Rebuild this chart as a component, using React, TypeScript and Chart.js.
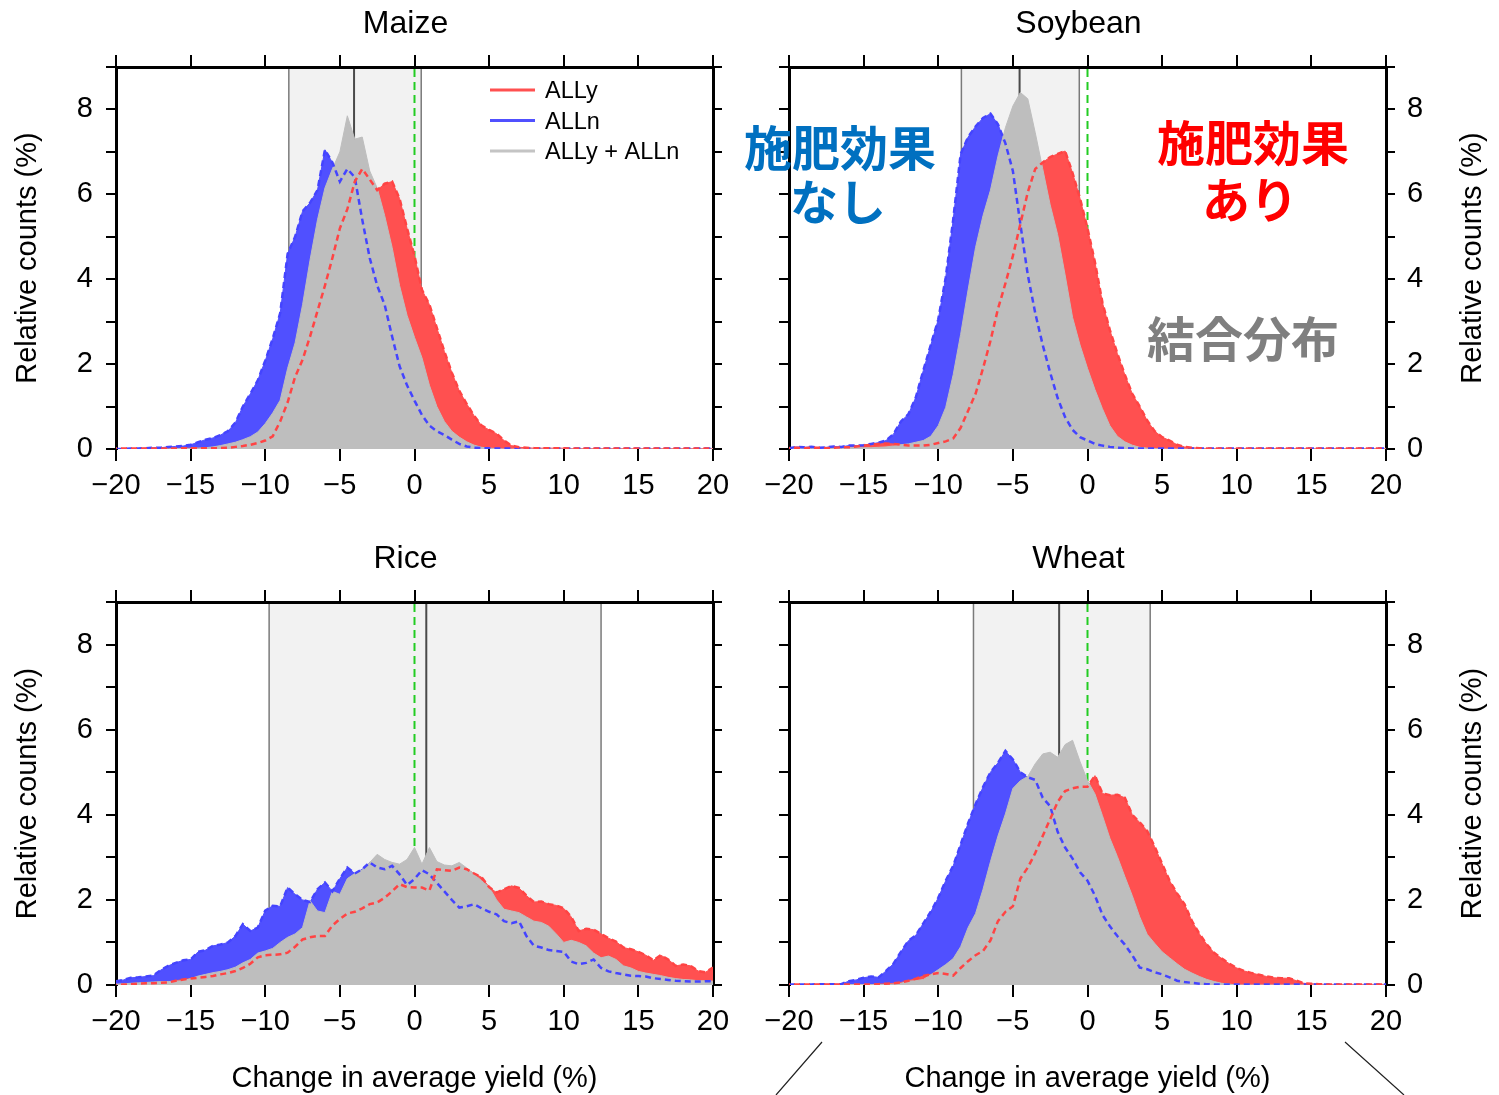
import React, { useEffect, useRef } from 'react';
import { Chart, registerables } from 'chart.js';

Chart.register(...registerables);

const FONT = "'Liberation Sans', Arial, Helvetica, sans-serif";
const JP_FONT = "'Noto Sans CJK JP', 'Noto Sans CJK SC', sans-serif";

Chart.defaults.font.family = FONT;
Chart.defaults.color = '#000';

// Histogram bin centres (% change in average yield), every 0.5 from -20 to 20
const BINS: number[] = Array.from({ length: 81 }, (_, i) => -20 + i * 0.5);

const CROPS = ['Maize', 'Soybean', 'Rice', 'Wheat'];
const LEGEND_LABELS = ['ALLy', 'ALLn', 'ALLy + ALLn'];
const X_TITLE = 'Change in average yield (%)';
const Y_TITLE = 'Relative counts (%)';
const NOTE_WITHOUT = ['施肥効果', 'なし'];
const NOTE_WITH = ['施肥効果', 'あり'];
const NOTE_JOINT = '結合分布';

// Relative counts (%) per bin
const MAIZE_ALLY = [
  0.01, 0.01, 0.01, 0.01, 0.01, 0.01, 0.01, 0.01, 0.01, 0.02,
  0.02, 0.02, 0.02, 0.02, 0.02, 0.03, 0.05, 0.07, 0.1, 0.14,
  0.2, 0.3, 0.65, 1.1, 1.7, 2.1, 2.65, 3.25, 3.85, 4.5,
  5.2, 5.65, 6.3, 6.6, 6.35, 6.1, 6.25, 6.3, 5.9, 5.2,
  4.55, 3.75, 3.4, 2.85, 2.3, 1.8, 1.37, 1.06, 0.78, 0.55,
  0.45, 0.36, 0.2, 0.08, 0.04, 0.03, 0.02, 0.02, 0.02, 0.02,
  0.02, 0.01, 0.01, 0.01, 0.01, 0.01, 0.01, 0.01, 0.01, 0.01,
  0.01, 0.01, 0.01, 0.01, 0.01, 0.01, 0.01, 0.01, 0.01, 0.01,
  0.01,
];
const MAIZE_ALLN = [
  0, 0, 0.01, 0.01, 0.02, 0.03, 0.03, 0.05, 0.06, 0.07,
  0.1, 0.16, 0.22, 0.26, 0.33, 0.42, 0.62, 1.0, 1.3, 1.62,
  2.08, 2.6, 3.2, 4.6, 5.0, 5.6, 5.8, 6.1, 7.05, 6.75,
  6.3, 6.6, 6.4, 5.4, 4.5, 3.85, 3.4, 2.65, 1.95, 1.5,
  1.14, 0.8, 0.55, 0.42, 0.33, 0.22, 0.12, 0.06, 0.03, 0.02,
  0.02, 0.01, 0.01, 0.01, 0.01, 0.01, 0.01, 0.01, 0.01, 0.01,
  0.01, 0.01, 0.01, 0.01, 0.01, 0.01, 0.01, 0.01, 0.01, 0.01,
  0.01, 0.01, 0.01, 0.01, 0.01, 0.01, 0.01, 0.01, 0.01, 0.01,
  0.01,
];
const MAIZE_ALL = [
  0, 0, 0, 0, 0, 0, 0, 0, 0.01, 0.01,
  0.01, 0.02, 0.03, 0.05, 0.08, 0.12, 0.16, 0.22, 0.29, 0.4,
  0.6, 0.85, 1.15, 1.9, 2.5, 3.4, 4.45, 5.4, 6.15, 6.6,
  7.0, 7.85, 7.3, 7.35, 6.55, 6.15, 5.5, 4.75, 3.85, 3.15,
  2.63, 2.15, 1.5, 1.0, 0.65, 0.42, 0.28, 0.17, 0.09, 0.04,
  0.02, 0.01, 0, 0, 0, 0, 0, 0, 0, 0,
  0, 0, 0, 0, 0, 0, 0, 0, 0, 0,
  0, 0, 0, 0, 0, 0, 0, 0, 0, 0,
  0,
];

const SOY_ALLY = [
  0.02, 0.03, 0.02, 0.03, 0.03, 0.02, 0.03, 0.04, 0.04, 0.06,
  0.08, 0.1, 0.12, 0.13, 0.12, 0.1, 0.08, 0.08, 0.08, 0.1,
  0.14, 0.18, 0.25, 0.5, 0.9, 1.3, 1.9, 2.55, 3.3, 3.9,
  4.55, 5.3, 6.05, 6.6, 6.75, 6.88, 6.95, 7.02, 6.5, 5.9,
  5.2, 4.4, 3.45, 2.8, 2.25, 1.75, 1.3, 1.0, 0.67, 0.42,
  0.28, 0.2, 0.1, 0.05, 0.03, 0.02, 0.01, 0.01, 0.01, 0.01,
  0.01, 0.01, 0.01, 0.01, 0.01, 0.01, 0.01, 0.01, 0.01, 0.01,
  0.01, 0.01, 0.01, 0.01, 0.01, 0.01, 0.01, 0.01, 0.01, 0.01,
  0.01,
];
const SOY_ALLN = [
  0.02, 0.05, 0.04, 0.05, 0.03, 0.04, 0.06, 0.05, 0.08, 0.08,
  0.09, 0.12, 0.15, 0.2, 0.35, 0.65, 0.82, 1.22, 1.85, 2.45,
  3.05, 4.04, 5.4, 6.95, 7.35, 7.6, 7.8, 7.9, 7.65, 7.2,
  6.55, 5.3, 4.1, 3.2, 2.45, 1.8, 1.2, 0.75, 0.45, 0.28,
  0.2, 0.12, 0.08, 0.05, 0.03, 0.02, 0.01, 0.01, 0.01, 0.01,
  0.01, 0.01, 0.01, 0.01, 0.01, 0.01, 0.01, 0.01, 0.01, 0.01,
  0.01, 0.01, 0.01, 0.01, 0.01, 0.01, 0.01, 0.01, 0.01, 0.01,
  0.01, 0.01, 0.01, 0.01, 0.01, 0.01, 0.01, 0.01, 0.01, 0.01,
  0.01,
];
const SOY_ALL = [
  0.01, 0.01, 0.01, 0.01, 0.01, 0.02, 0.02, 0.02, 0.03, 0.03,
  0.03, 0.03, 0.04, 0.05, 0.07, 0.1, 0.12, 0.16, 0.2, 0.3,
  0.55, 0.98, 1.75, 2.7, 3.75, 4.75, 5.5, 6.1, 6.9, 7.57,
  8.08, 8.4, 8.25, 7.45, 6.6, 5.75, 5.05, 4.1, 3.1, 2.45,
  1.9, 1.4, 0.95, 0.55, 0.3, 0.17, 0.09, 0.04, 0.02, 0.01,
  0, 0, 0, 0, 0, 0, 0, 0, 0, 0,
  0, 0, 0, 0, 0, 0, 0, 0, 0, 0,
  0, 0, 0, 0, 0, 0, 0, 0, 0, 0,
  0,
];

const RICE_ALLY = [
  0, 0.01, 0.02, 0.03, 0.04, 0.04, 0.05, 0.06, 0.1, 0.13,
  0.15, 0.17, 0.19, 0.21, 0.25, 0.28, 0.33, 0.4, 0.5, 0.65,
  0.7, 0.71, 0.72, 0.76, 0.9, 1.07, 1.12, 1.15, 1.15, 1.4,
  1.55, 1.68, 1.72, 1.8, 1.9, 1.94, 2.05, 2.2, 2.37, 2.3,
  2.29, 2.29, 2.22, 2.72, 2.7, 2.68, 2.76, 2.72, 2.62, 2.53,
  2.3, 2.17, 2.25, 2.33, 2.28, 2.1, 1.95, 1.96, 1.9, 1.87,
  1.8, 1.6, 1.27, 1.32, 1.3, 1.2, 1.1, 1.02, 0.88, 0.84,
  0.78, 0.7, 0.58, 0.7, 0.6, 0.45, 0.48, 0.45, 0.33, 0.3,
  0.41,
];
const RICE_ALLN = [
  0.09, 0.12, 0.17, 0.18, 0.2, 0.22, 0.35, 0.45, 0.52, 0.58,
  0.6, 0.78, 0.82, 0.92, 0.95, 1.0, 1.15, 1.43, 1.27, 1.35,
  1.75, 1.86, 1.85, 2.29, 2.13, 2.0, 1.95, 2.25, 2.41, 2.2,
  2.5, 2.76, 2.62, 2.72, 2.88, 2.76, 2.72, 2.8, 2.6, 2.35,
  2.49, 2.7, 2.6, 2.4, 2.2, 2.0, 1.82, 1.85, 1.9, 1.8,
  1.72, 1.66, 1.5, 1.45, 1.5, 1.15, 0.92, 0.88, 0.82, 0.8,
  0.78, 0.55, 0.49, 0.52, 0.6, 0.4, 0.32, 0.28, 0.25, 0.22,
  0.21, 0.2, 0.16, 0.14, 0.12, 0.1, 0.09, 0.08, 0.08, 0.09,
  0.09,
];
const RICE_ALL = [
  0.02, 0.03, 0.04, 0.05, 0.06, 0.07, 0.08, 0.08, 0.09, 0.1,
  0.15, 0.21, 0.25, 0.29, 0.32, 0.36, 0.42, 0.52, 0.6, 0.75,
  0.8, 0.86, 1.0, 1.12, 1.2, 1.35, 1.98, 1.74, 1.7, 2.2,
  2.13, 2.5, 2.62, 2.7, 2.88, 3.07, 2.95, 2.88, 2.84, 2.95,
  3.23, 2.84, 3.23, 2.9, 2.82, 2.8, 2.88, 2.75, 2.6, 2.45,
  2.3, 2.0, 1.78, 1.74, 1.7, 1.6, 1.5, 1.47, 1.38, 1.2,
  1.0, 1.05, 1.0, 0.92, 0.75, 0.64, 0.68, 0.6, 0.45, 0.4,
  0.32, 0.28, 0.25, 0.22, 0.18, 0.15, 0.13, 0.12, 0.1, 0.1,
  0.09,
];

const WHEAT_ALLY = [
  0.01, 0.01, 0.01, 0.01, 0.01, 0.01, 0.01, 0.01, 0.01, 0.01,
  0.01, 0.01, 0.02, 0.03, 0.04, 0.06, 0.1, 0.15, 0.21, 0.25,
  0.28, 0.26, 0.22, 0.4, 0.56, 0.7, 0.8, 1.05, 1.5, 1.72,
  1.85, 2.5, 2.76, 3.1, 3.5, 3.9, 4.3, 4.56, 4.62, 4.66,
  4.66, 4.92, 4.5, 4.46, 4.47, 4.4, 4.0, 3.82, 3.62, 3.25,
  2.85, 2.45, 2.15, 1.9, 1.5, 1.2, 0.95, 0.75, 0.62, 0.5,
  0.4, 0.33, 0.28, 0.24, 0.2, 0.17, 0.16, 0.16, 0.1, 0.04,
  0.03, 0.02, 0.01, 0.01, 0.01, 0.01, 0.01, 0.01, 0.01, 0.01,
  0.01,
];
const WHEAT_ALLN = [
  0.01, 0.01, 0.01, 0.01, 0.02, 0.02, 0.02, 0.02, 0.09, 0.12,
  0.17, 0.2, 0.18, 0.33, 0.5, 0.78, 1.04, 1.17, 1.45, 1.72,
  2.05, 2.45, 2.8, 3.3, 3.8, 4.25, 4.65, 5.0, 5.22, 5.5,
  5.3, 5.0, 4.88, 4.82, 4.4, 4.2, 3.6, 3.23, 2.97, 2.65,
  2.45, 2.1, 1.65, 1.38, 1.15, 0.95, 0.7, 0.41, 0.37, 0.3,
  0.25, 0.18, 0.1, 0.07, 0.05, 0.03, 0.02, 0.01, 0.01, 0.01,
  0.01, 0.01, 0.01, 0.01, 0.01, 0.01, 0.01, 0.01, 0.01, 0.01,
  0.01, 0.01, 0.01, 0.01, 0.01, 0.01, 0.01, 0.01, 0.01, 0.01,
  0.01,
];
const WHEAT_ALL = [
  0, 0, 0, 0, 0, 0, 0, 0, 0.01, 0.01,
  0.01, 0.01, 0.01, 0.01, 0.02, 0.04, 0.09, 0.1, 0.13, 0.24,
  0.36, 0.48, 0.62, 0.9, 1.35, 1.68, 2.25, 2.9, 3.5, 4.02,
  4.62, 4.8, 4.9, 5.2, 5.43, 5.47, 5.35, 5.65, 5.75, 5.25,
  4.8, 4.49, 3.98, 3.45, 3.02, 2.55, 2.1, 1.6, 1.19, 0.98,
  0.78, 0.64, 0.5, 0.37, 0.28, 0.2, 0.13, 0.08, 0.04, 0.02,
  0, 0, 0, 0, 0, 0, 0, 0, 0, 0,
  0, 0, 0, 0, 0, 0, 0, 0, 0, 0,
  0,
];

// Shaded range per crop: lower bound, central value, upper bound (%)
const BAND_LOW = [-8.42, -8.45, -9.74, -7.64];
const BAND_MID = [-4.05, -4.55, 0.79, -1.9];
const BAND_HIGH = [0.45, -0.55, 12.5, 4.2];

const RED_FILL = '#FF5050';
const BLUE_FILL = '#5050FF';
const GRAY_FILL = '#BEBEBE';
const RED_LINE = '#FF4444';
const BLUE_LINE = '#4444FF';
const LEGEND_COLORS = [RED_FILL, BLUE_FILL, '#C4C4C4'];

type Area = { l: number; r: number; t: number; b: number };
type PanelSpec = {
  index: number;
  allY: number[];
  allN: number[];
  all: number[];
  left: number;
  top: number;
  width: number;
  height: number;
  area: Area;
  leftLabels: boolean;
  rightLabels: boolean;
  xTitle: boolean;
};

const PANELS: PanelSpec[] = [
  { index: 0, allY: MAIZE_ALLY, allN: MAIZE_ALLN, all: MAIZE_ALL, left: 0, top: 0, width: 750, height: 530, area: { l: 116, r: 713, t: 67, b: 449 }, leftLabels: true, rightLabels: false, xTitle: false },
  { index: 1, allY: SOY_ALLY, allN: SOY_ALLN, all: SOY_ALL, left: 740, top: 0, width: 759, height: 530, area: { l: 49, r: 646, t: 67, b: 449 }, leftLabels: false, rightLabels: true, xTitle: false },
  { index: 2, allY: RICE_ALLY, allN: RICE_ALLN, all: RICE_ALL, left: 0, top: 535, width: 750, height: 560, area: { l: 116, r: 713, t: 67, b: 450 }, leftLabels: true, rightLabels: false, xTitle: true },
  { index: 3, allY: WHEAT_ALLY, allN: WHEAT_ALLN, all: WHEAT_ALL, left: 740, top: 535, width: 759, height: 560, area: { l: 49, r: 646, t: 67, b: 450 }, leftLabels: false, rightLabels: true, xTitle: true },
];

const signed = (v: number): string => (v < 0 ? '\u2212' + Math.abs(v) : String(v));

const tickMarks = (len: number) => ({
  display: true,
  drawOnChartArea: false,
  drawTicks: true,
  tickLength: len,
  tickWidth: 2,
  tickColor: '#000',
  color: '#000',
  lineWidth: 2,
});

function vline(ctx: CanvasRenderingContext2D, x: number, top: number, bottom: number) {
  ctx.beginPath();
  ctx.moveTo(x, top);
  ctx.lineTo(x, bottom);
  ctx.stroke();
}

function decorPlugin(p: PanelSpec) {
  return {
    id: 'decor',
    beforeDraw(chart: any) {
      const { ctx, chartArea: a } = chart;
      const xs = chart.scales.x;
      const lo = xs.getPixelForValue(BAND_LOW[p.index]);
      const mid = xs.getPixelForValue(BAND_MID[p.index]);
      const hi = xs.getPixelForValue(BAND_HIGH[p.index]);
      const zero = xs.getPixelForValue(0);
      ctx.save();
      ctx.fillStyle = '#F2F2F2';
      ctx.fillRect(lo, a.top, hi - lo, a.bottom - a.top);
      ctx.strokeStyle = '#7A7A7A';
      ctx.lineWidth = 1.5;
      vline(ctx, lo, a.top, a.bottom);
      vline(ctx, hi, a.top, a.bottom);
      ctx.strokeStyle = '#4A4A4A';
      ctx.lineWidth = 2;
      vline(ctx, mid, a.top, a.bottom);
      ctx.strokeStyle = '#22CC22';
      ctx.lineWidth = 2;
      ctx.setLineDash([8, 5]);
      vline(ctx, zero, a.top + 2, a.bottom);
      ctx.restore();
    },
    afterDraw(chart: any) {
      const { ctx, chartArea: a } = chart;
      ctx.save();
      // panel title
      ctx.fillStyle = '#000';
      ctx.font = `32px ${FONT}`;
      ctx.textAlign = 'center';
      ctx.textBaseline = 'alphabetic';
      ctx.fillText(CROPS[p.index], (a.left + a.right) / 2 - 9, 33);

      if (p.rightLabels) {
        ctx.save();
        ctx.translate(p.width - 26, (a.top + a.bottom) / 2);
        ctx.rotate(-Math.PI / 2);
        ctx.font = `29px ${FONT}`;
        ctx.textAlign = 'center';
        ctx.textBaseline = 'middle';
        ctx.fillText(Y_TITLE, 0, 0);
        ctx.restore();
      }

      if (p.index === 0) {
        const ys = [90, 120.5, 151];
        LEGEND_LABELS.forEach((label, i) => {
          ctx.strokeStyle = LEGEND_COLORS[i];
          ctx.lineWidth = 3;
          ctx.beginPath();
          ctx.moveTo(490, ys[i]);
          ctx.lineTo(535, ys[i]);
          ctx.stroke();
          ctx.fillStyle = '#000';
          ctx.font = `23.5px ${FONT}`;
          ctx.textAlign = 'left';
          ctx.textBaseline = 'alphabetic';
          ctx.fillText(label, 545, ys[i] + 8.3);
        });
      }

      if (p.index === 1) {
        ctx.font = `bold 48px ${JP_FONT}`;
        ctx.textAlign = 'center';
        ctx.textBaseline = 'middle';
        ctx.fillStyle = '#0070C0';
        ctx.fillText(NOTE_WITHOUT[0], 100, 148);
        ctx.fillText(NOTE_WITHOUT[1], 98, 202);
        ctx.fillStyle = '#FF0000';
        ctx.fillText(NOTE_WITH[0], 513, 143);
        ctx.fillText(NOTE_WITH[1], 510, 200);
        ctx.fillStyle = '#7F7F7F';
        ctx.fillText(NOTE_JOINT, 503, 339);
      }

      if (p.index === 3) {
        ctx.strokeStyle = '#222';
        ctx.lineWidth = 1.2;
        ctx.beginPath();
        ctx.moveTo(82, 507);
        ctx.lineTo(36, 560);
        ctx.moveTo(605, 507);
        ctx.lineTo(664, 560);
        ctx.stroke();
      }
      ctx.restore();
    },
  };
}

function makeConfig(p: PanelSpec): any {
  const pts = (arr: number[]) => BINS.map((x, i) => ({ x, y: arr[i] }));
  const common = { xAxisID: 'x', yAxisID: 'y', pointRadius: 0, tension: 0 };
  const fixWidth = (w: number) => (s: any) => { s.width = w; };
  const fixHeight = (h: number) => (s: any) => { s.height = h; };
  const yTickLabel = (v: any) => (Number(v) % 2 === 0 && Number(v) <= 8 ? String(v) : '');

  return {
    type: 'line',
    data: {
      datasets: [
        { ...common, label: 'ALLy', data: pts(p.allY), borderColor: RED_LINE, borderWidth: 2.5, borderDash: [6, 4], borderDashOffset: 5, fill: false, order: 0 },
        { ...common, label: 'ALLn', data: pts(p.allN), borderColor: BLUE_LINE, borderWidth: 2.5, borderDash: [6, 4], fill: false, order: 1 },
        { ...common, label: 'ALLy + ALLn', data: pts(p.all), borderColor: GRAY_FILL, backgroundColor: GRAY_FILL, borderWidth: 1, fill: 'origin', order: 2 },
        { ...common, label: 'ALLy area', data: pts(p.allY), borderColor: RED_FILL, backgroundColor: RED_FILL, borderWidth: 1, fill: 'origin', order: 3 },
        { ...common, label: 'ALLn area', data: pts(p.allN), borderColor: BLUE_FILL, backgroundColor: BLUE_FILL, borderWidth: 1, fill: 'origin', order: 4 },
      ],
    },
    options: {
      responsive: false,
      animation: false,
      devicePixelRatio: 1,
      events: [],
      layout: { padding: 0, autoPadding: false },
      plugins: { legend: { display: false }, tooltip: { enabled: false }, title: { display: false } },
      scales: {
        x: {
          type: 'linear',
          position: 'bottom',
          min: -20,
          max: 20,
          afterFit: fixHeight(p.height - p.area.b),
          ticks: { stepSize: 5, autoSkip: false, maxRotation: 0, padding: 8, font: { size: 29 }, color: '#000', callback: (v: any) => signed(Number(v)) },
          grid: tickMarks(12),
          border: { display: false },
          title: p.xTitle
            ? { display: true, text: X_TITLE, color: '#000', font: { size: 29, lineHeight: 1 }, padding: { top: 0, bottom: 1.5 } }
            : { display: false },
        },
        xTop: {
          type: 'linear',
          position: 'top',
          min: -20,
          max: 20,
          afterFit: fixHeight(p.area.t),
          ticks: { display: false, stepSize: 5, autoSkip: false },
          grid: tickMarks(12),
          border: { display: true, width: 3, color: '#000' },
        },
        y: {
          type: 'linear',
          position: 'left',
          min: 0,
          max: 9,
          afterFit: fixWidth(p.area.l),
          ticks: { display: p.leftLabels, stepSize: 1, autoSkip: false, padding: 13, font: { size: 29 }, color: '#000', callback: yTickLabel },
          grid: tickMarks(10),
          border: { display: true, width: 3, color: '#000' },
          title: p.leftLabels
            ? { display: true, text: Y_TITLE, color: '#000', font: { size: 29 }, padding: { top: 10.5, bottom: 0 } }
            : { display: false },
        },
        yRight: {
          type: 'linear',
          position: 'right',
          min: 0,
          max: 9,
          afterFit: fixWidth(p.width - p.area.r),
          ticks: { display: p.rightLabels, stepSize: 1, autoSkip: false, padding: 12, font: { size: 29 }, color: '#000', callback: yTickLabel },
          grid: tickMarks(9),
          border: { display: true, width: 3, color: '#000' },
        },
      },
    },
    plugins: [decorPlugin(p)],
  };
}

function Panel({ spec }: { spec: PanelSpec }) {
  const ref = useRef<HTMLCanvasElement | null>(null);
  useEffect(() => {
    if (!ref.current) return;
    const chart = new Chart(ref.current, makeConfig(spec));
    return () => chart.destroy();
  }, [spec]);
  return (
    <canvas
      ref={ref}
      width={spec.width}
      height={spec.height}
      style={{ position: 'absolute', left: spec.left, top: spec.top, width: spec.width, height: spec.height, display: 'block' }}
    />
  );
}

export default function App() {
  return (
    <div style={{ position: 'absolute', left: 0, top: 0, width: 1499, height: 1095, overflow: 'hidden', background: '#fff' }}>
      {PANELS.map((p) => (
        <Panel key={p.index} spec={p} />
      ))}
    </div>
  );
}
